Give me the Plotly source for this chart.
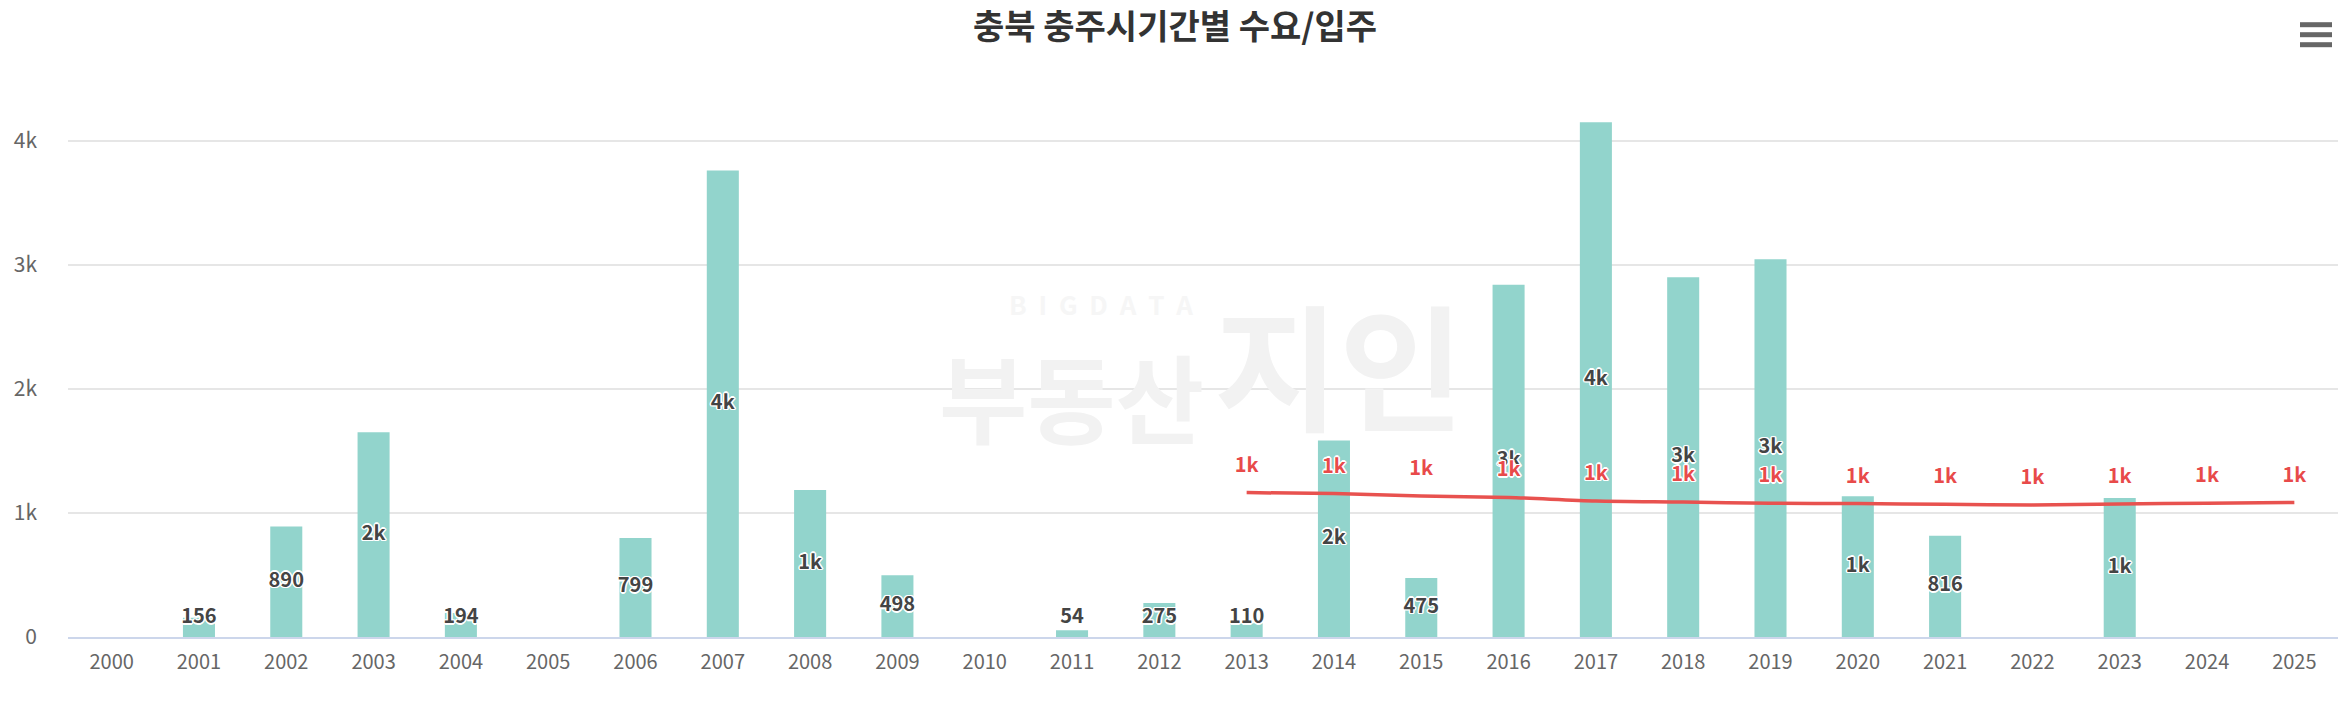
import plotly.graph_objects as go

# ---- data ----
years = [str(y) for y in range(2000, 2026)]
supply = [0, 156, 890, 1650, 194, 0, 799, 3760, 1185, 498, 0, 54, 275, 110,
          1585, 475, 2840, 4150, 2900, 3045, 1135, 816, 0, 1120, 0, 0]
demand_years = [str(y) for y in range(2013, 2026)]
demand = [1164, 1156, 1137, 1125, 1097, 1089, 1078, 1076, 1070, 1065, 1073, 1078, 1084]
y_tickvals = [0, 1000, 2000, 3000, 4000]
y_ticktext = ["0", "1k", "2k", "3k", "4k"]
title_text = "충북 충주시기간별 수요/입주"

FONT = "Noto Sans CJK KR"
BAR_COLOR = "#92d4cc"
LINE_COLOR = "#e8524f"
LABEL_RED = "#e84a4a"


def fmt(v):
    if v >= 1000:
        return f"{int(v / 1000 + 0.5)}k"
    return f"{int(v)}"


outline = ", ".join(f"{dx}px {dy}px 0 #ffffff" for dx, dy in
                    [(1.5, 0), (-1.5, 0), (0, 1.5), (0, -1.5),
                     (1, 1), (-1, -1), (1, -1), (-1, 1)])

# label positions: middle of bar, kept clear of the axis line
label_x = [x for x, v in zip(years, supply) if v > 0]
label_y = [max(v / 2, 153) for v in supply if v > 0]
label_t = [fmt(v) for v in supply if v > 0]

fig = go.Figure()
fig.add_trace(go.Bar(
    x=years, y=supply, marker=dict(color=BAR_COLOR, line=dict(width=0)),
    name="입주", hoverinfo="x+y",
))
fig.add_trace(go.Scatter(
    x=label_x, y=label_y, text=label_t, mode="text",
    textposition="middle center",
    textfont=dict(family=FONT, size=20, color="#444444", weight=700, shadow=outline),
    hoverinfo="skip", showlegend=False,
))
fig.add_trace(go.Scatter(
    x=demand_years, y=demand, mode="lines+markers+text",
    line=dict(color=LINE_COLOR, width=3.5, shape="spline", smoothing=0.8),
    marker=dict(size=24, color="rgba(0,0,0,0)"),
    text=[fmt(v) for v in demand], textposition="top center",
    textfont=dict(family=FONT, size=20, color=LABEL_RED, weight=700, shadow=outline),
    name="수요",
))

# watermark
wm = "#f2f2f2"
fig.add_annotation(x=0.455, y=0.605, xref="paper", yref="paper", text="B  I  G  D  A  T  A",
                   showarrow=False, font=dict(family=FONT, size=26, color="#f6f6f6", weight=700))
fig.add_annotation(x=0.442, y=0.44, xref="paper", yref="paper", text="부동산",
                   showarrow=False, font=dict(family=FONT, size=96, color=wm, weight=700))
fig.add_annotation(x=0.56, y=0.50, xref="paper", yref="paper", text="지인",
                   showarrow=False, font=dict(family=FONT, size=136, color=wm, weight=700))

# export-menu icon (decorative)
W, H = 2350, 716
ml, mr, mt, mb = 68, 12, 85, 79
pw, ph = W - ml - mr, H - mt - mb
for py in (24.7, 34.7, 44.7):
    fig.add_shape(type="line", xref="paper", yref="paper",
                  x0=(2300 - ml) / pw, x1=(2332 - ml) / pw,
                  y0=(H - mb - py) / ph, y1=(H - mb - py) / ph,
                  line=dict(color="#666666", width=5))

fig.update_layout(
    width=W, height=H,
    margin=dict(l=ml, r=mr, t=mt, b=mb, pad=0),
    paper_bgcolor="white", plot_bgcolor="white",
    showlegend=False,
    bargap=0.633,
    font=dict(family=FONT, color="#666666"),
    title=dict(text=title_text, x=0.5, xanchor="center", y=1 - 27 / H, yanchor="middle",
               font=dict(family=FONT, size=34, color="#333333", weight=700)),
    xaxis=dict(type="category", range=[-0.5, len(years) - 0.5], autorange=False,
               showgrid=False, showline=True, linecolor="#ccd6eb",
               linewidth=1.5, ticks="", tickfont=dict(family=FONT, size=20, color="#666666"),
               ticklabelstandoff=6, zeroline=False),
    yaxis=dict(range=[0, 4450], tickvals=y_tickvals, ticktext=y_ticktext,
               showgrid=True, gridcolor="#e6e6e6", gridwidth=1.5, zeroline=False,
               showline=False, ticks="", ticklabelstandoff=30,
               tickfont=dict(family=FONT, size=21, color="#666666")),
)

fig.write_html("out.html", config={"displayModeBar": False},
               post_script="document.body.style.margin='0px';")
